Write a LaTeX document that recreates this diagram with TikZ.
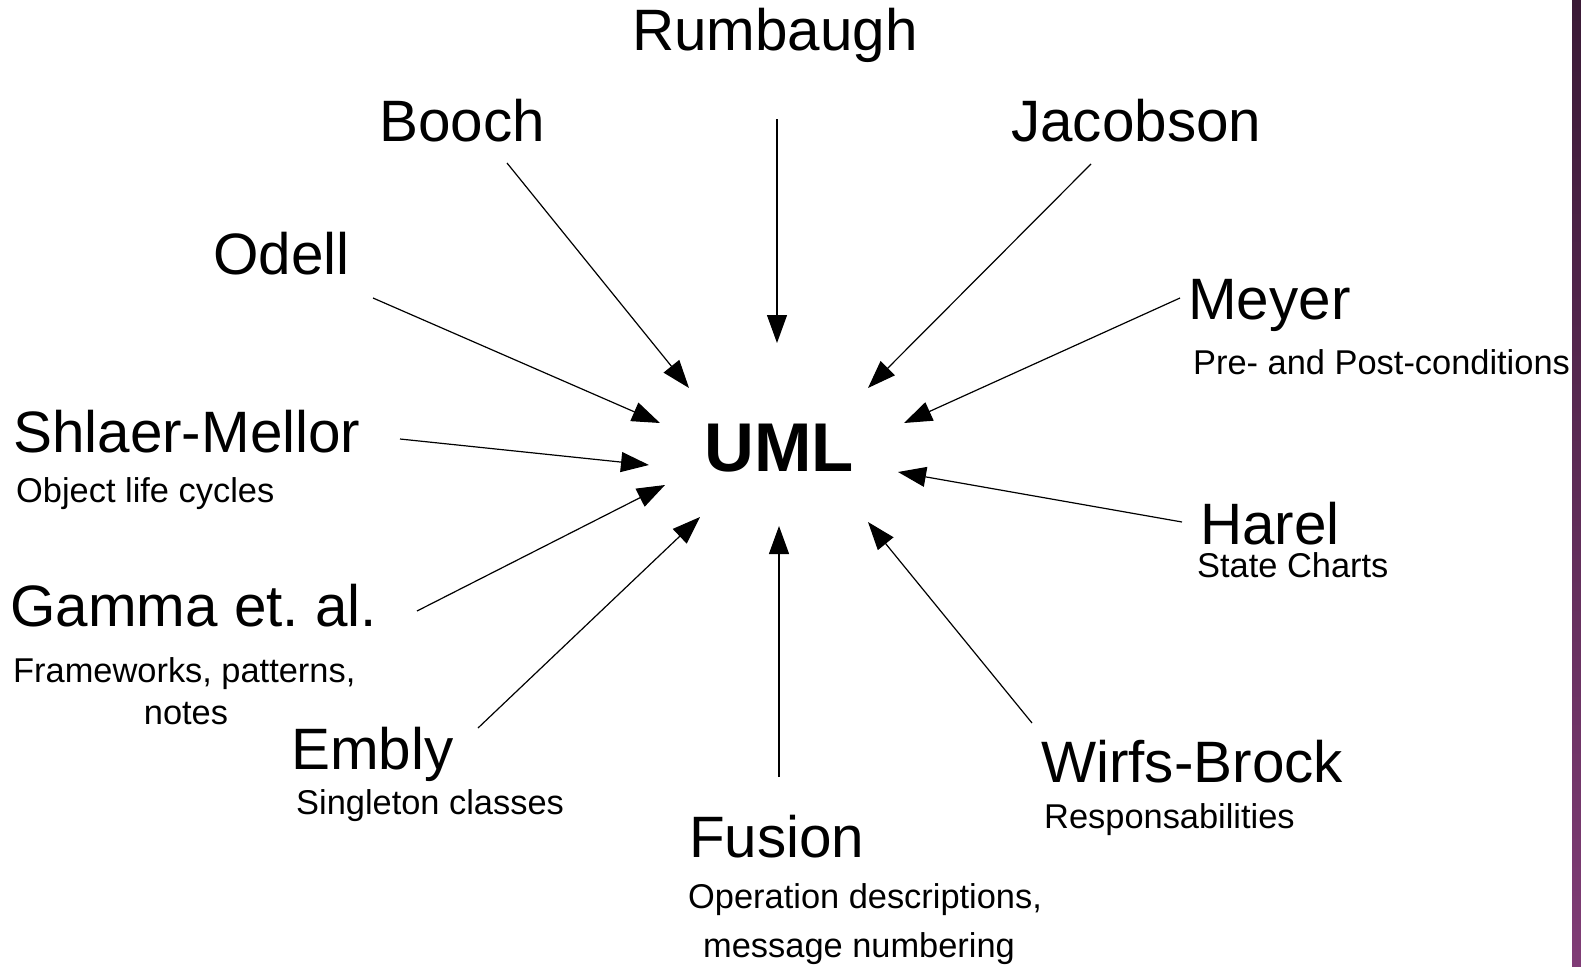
\documentclass[tikz,border=0pt]{standalone}
\usepackage{fontspec}
\setmainfont{Liberation Sans}
\usetikzlibrary{arrows.meta}
\frenchspacing
\begin{document}
\begin{tikzpicture}[x=1pt,y=-1pt,
  who/.style={inner sep=0pt,font=\fontsize{58.4}{62}\selectfont},
  note/.style={inner sep=0pt,font=\fontsize{34.4}{40}\selectfont},
  feed/.style={line width=1.2pt,-{Triangle[length=28pt,width=20pt]}}]
\useasboundingbox (0,0) rectangle (1581,966);
\fill[white] (0,0) rectangle (1581,966);
% side band
\shade[top color={rgb,255:red,58;green,26;blue,54},bottom color={rgb,255:red,128;green,60;blue,118}]
  (1572,0) rectangle (1581,966);

% centre
\node[inner sep=0pt,font=\fontsize{69}{72}\selectfont\bfseries,anchor=base] (uml) at (779,471) {UML};

% contributors
\node[who,anchor=base] (rumbaugh) at (775,51) {Rumbaugh};
\node[who,anchor=base west] (booch) at (379,141) {Booch};
\node[who,anchor=base west] (jacobson) at (1011,141) {Jacobson};
\node[who,anchor=base west] (odell) at (213,274) {Odell};
\node[who,anchor=base west] (meyer) at (1188,319) {Meyer};
\node[note,anchor=base west] (meyernote) at (1193,374) {Pre- and Post-conditions};
\node[who,anchor=base west] (shlaer) at (13,452) {Shlaer-Mellor};
\node[note,anchor=base west] (shlaernote) at (16,502) {Object life cycles};
\node[who,anchor=base west] (gamma) at (10,626) {Gamma et.\ al.};
\node[note,anchor=base west] (gammanote) at (13,682) {Frameworks, patterns,};
\node[note,anchor=base] (gammanote2) at (186,724) {notes};
\node[who,anchor=base west] (embly) at (291,769) {Embly};
\node[note,anchor=base west] (emblynote) at (296,814) {Singleton classes};
\node[who,anchor=base west] (fusion) at (689,857) {Fusion};
\node[note,anchor=base west] (fusionnote) at (688,908) {Operation descriptions,};
\node[note,anchor=base west] (fusionnote2) at (703,957) {message numbering};
\node[who,anchor=base west] (wirfs) at (1041,782) {Wirfs-Brock};
\node[note,anchor=base west] (wirfsnote) at (1044,828) {Responsabilities};
\node[who,anchor=base west] (harel) at (1200,544) {Harel};
\node[note,anchor=base west] (harelnote) at (1197,577) {State Charts};

% arrow ends
\coordinate (rA) at (777,119);  \coordinate (rB) at (777,343);
\coordinate (bA) at (507,163);  \coordinate (bB) at (689,388);
\coordinate (jA) at (1091,164); \coordinate (jB) at (868,388);
\coordinate (oA) at (373,298);  \coordinate (oB) at (660,423);
\coordinate (mA) at (1180,298); \coordinate (mB) at (904,423);
\coordinate (sA) at (400,439);  \coordinate (sB) at (649,465);
\coordinate (hA) at (1182,522); \coordinate (hB) at (898,472);
\coordinate (gA) at (417,611);  \coordinate (gB) at (665,485);
\coordinate (eA) at (478,728);  \coordinate (eB) at (700,517);
\coordinate (fA) at (779,777);  \coordinate (fB) at (779,526);
\coordinate (wA) at (1032,723); \coordinate (wB) at (868,522);

\draw[feed] (rA) -- (rB);
\draw[feed] (bA) -- (bB);
\draw[feed] (jA) -- (jB);
\draw[feed] (oA) -- (oB);
\draw[feed] (mA) -- (mB);
\draw[feed] (sA) -- (sB);
\draw[feed] (hA) -- (hB);
\draw[feed] (gA) -- (gB);
\draw[feed] (eA) -- (eB);
\draw[feed] (fA) -- (fB);
\draw[feed] (wA) -- (wB);
\end{tikzpicture}
\end{document}
